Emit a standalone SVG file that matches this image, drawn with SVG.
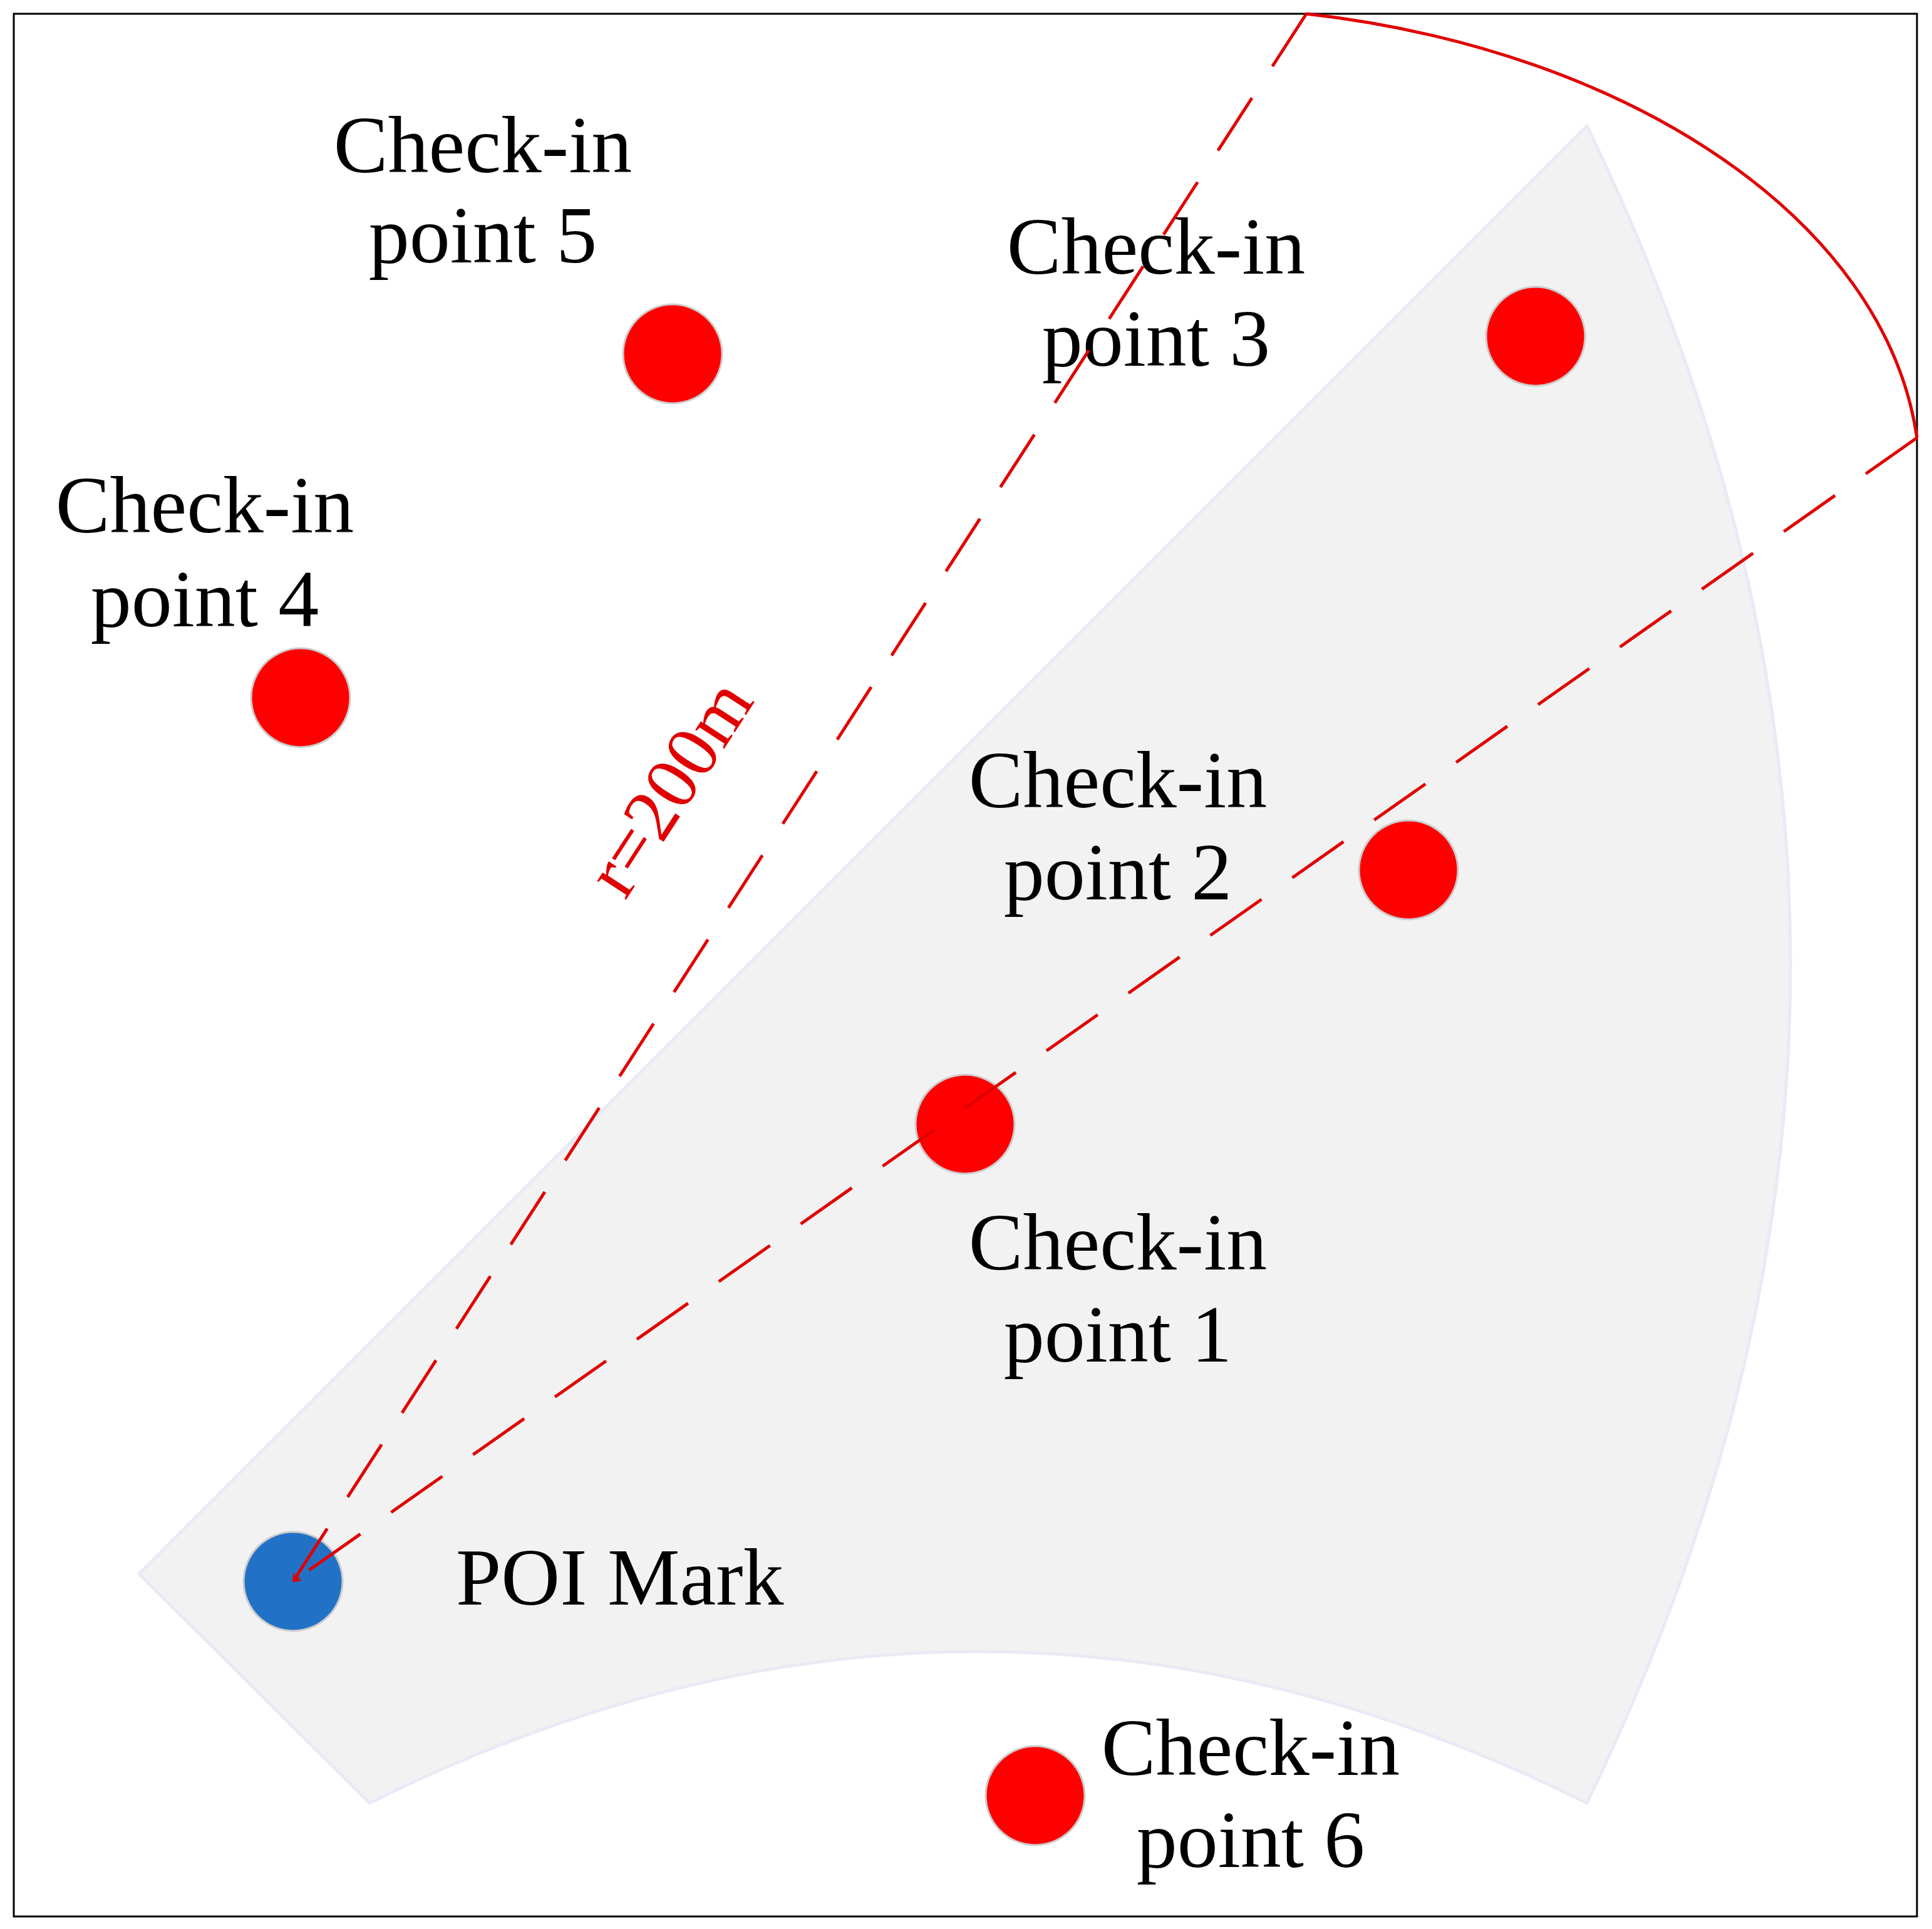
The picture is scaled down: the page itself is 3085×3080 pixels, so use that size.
<svg xmlns="http://www.w3.org/2000/svg" width="3085" height="3080" viewBox="0 0 3085 3080">
<style>
.t{font-family:"Liberation Serif",serif;font-size:130px;fill:#000;text-anchor:middle}
.pt{fill:#ff0000;stroke:#cccccc;stroke-width:3}
.d{stroke:#e00000;stroke-width:5;fill:none;stroke-dasharray:100 60}
</style>
<defs><marker id="a" markerWidth="12" markerHeight="12" refX="10" refY="5" orient="auto" markerUnits="userSpaceOnUse" viewBox="0 0 10 10"><path d="M0,0 L10,5 L0,10" fill="none" stroke="#e00000" stroke-width="2"/></marker></defs>
<rect x="0" y="0" width="3085" height="3080" fill="#fff"/>
<rect x="22" y="22" width="3039" height="3038" fill="none" stroke="#000" stroke-width="3"/>
<path d="M222,2513 L590,2879 Q1562,2395 2534,2879 Q3184,1540 2534,201 Z" fill="#f2f2f2" stroke="#e8eaf6" stroke-width="5"/>
<g id="poi"><circle cx="468" cy="2525" r="79" fill="#2172c6" stroke="#cccccc" stroke-width="3"/><text x="728" y="2562" style="font-family:'Liberation Serif',serif;font-size:130px">POI Mark</text></g>
<g id="p1"><circle class="pt" cx="1541" cy="1795" r="79"/><text class="t" x="1785" y="2027">Check-in</text><text class="t" x="1785" y="2174">point 1</text></g>
<g id="p2"><circle class="pt" cx="2249" cy="1389" r="79"/><text class="t" x="1785" y="1289">Check-in</text><text class="t" x="1785" y="1436">point 2</text></g>
<g id="p3"><circle class="pt" cx="2452" cy="537" r="79"/><text class="t" x="1846" y="437">Check-in</text><text class="t" x="1846" y="584">point 3</text></g>
<g id="p4"><circle class="pt" cx="480" cy="1114" r="79"/><text class="t" x="327" y="850">Check-in</text><text class="t" x="327" y="1000">point 4</text></g>
<g id="p5"><circle class="pt" cx="1074" cy="565" r="79"/><text class="t" x="771" y="275">Check-in</text><text class="t" x="771" y="419">point 5</text></g>
<g id="p6"><circle class="pt" cx="1653" cy="2867" r="79"/><text class="t" x="1997" y="2834">Check-in</text><text class="t" x="1997" y="2981">point 6</text></g>
<g id="connectors">
<line class="d" x1="2086" y1="22" x2="468" y2="2525" marker-end="url(#a)"/>
<line class="d" x1="3061" y1="699" x2="468" y2="2525" marker-end="url(#a)"/>
<path d="M2086,22 C2600,80 3010,350 3061,699" fill="none" stroke="#e00000" stroke-width="5"/>
<text x="1102" y="1279" transform="rotate(-57 1102 1279)" style="font-family:'Liberation Serif',serif;font-size:120px;fill:#e00000;text-anchor:middle">r=200m</text>
</g>
</svg>
